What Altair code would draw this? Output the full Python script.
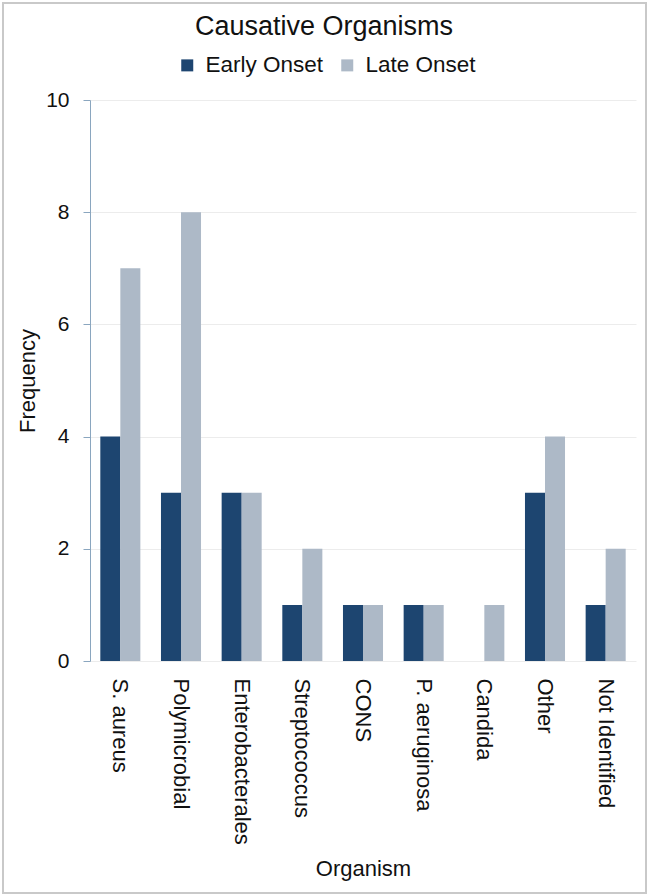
import altair as alt
import pandas as pd

organisms = [
    "S. aureus", "Polymicrobial", "Enterobacterales", "Streptococcus",
    "CONS", "P. aeruginosa", "Candida", "Other", "Not Identified",
]
early_onset = [4, 3, 3, 1, 1, 1, 0, 3, 1]
late_onset = [7, 8, 3, 2, 1, 1, 1, 4, 2]
onset_groups = ["Early Onset", "Late Onset"]
onset_colors = ["#1d4570", "#adb9c7"]
y_ticks = [0, 2, 4, 6, 8, 10]

rows = []
for org, e, l in zip(organisms, early_onset, late_onset):
    rows.append({"Organism": org, "Onset": "Early Onset", "Frequency": e})
    rows.append({"Organism": org, "Onset": "Late Onset", "Frequency": l})
df = pd.DataFrame(rows)

FONT = "Liberation Sans"

bars = alt.Chart(df).mark_bar().encode(
    x=alt.X(
        "Organism:N",
        sort=organisms,
        scale=alt.Scale(paddingInner=0.34, paddingOuter=0.17),
        axis=alt.Axis(
            title="Organism",
            labelAngle=90,
            labelAlign="left",
            labelBaseline="middle",
            labelFontSize=22,
            labelPadding=17,
            labelColor="#111111",
            ticks=False,
            domain=False,
            titleFontSize=22,
            titleFontWeight="normal",
            titleColor="#111111",
            titlePadding=14,
        ),
    ),
    xOffset=alt.XOffset(
        "Onset:N", sort=onset_groups,
        scale=alt.Scale(paddingInner=0, paddingOuter=0),
    ),
    y=alt.Y(
        "Frequency:Q",
        scale=alt.Scale(domain=[0, 10], nice=False),
        axis=alt.Axis(
            title="Frequency",
            values=y_ticks,
            labelFontSize=21,
            labelColor="#111111",
            labelPadding=14,
            tickSize=7,
            tickColor="#8aa6bf",
            domainColor="#8aa6bf",
            gridColor="#ececec",
            titleFontSize=22,
            titleFontWeight="normal",
            titleColor="#111111",
            titlePadding=6,
        ),
    ),
    color=alt.Color(
        "Onset:N",
        scale=alt.Scale(domain=onset_groups, range=onset_colors),
        legend=alt.Legend(
            title=None,
            orient="none",
            direction="horizontal",
            legendX=86,
            legendY=-46,
            symbolType="square",
            symbolSize=144,
            symbolStrokeWidth=0,
            labelFontSize=22.5,
            labelColor="#111111",
            labelOffset=7,
            columnPadding=12,
        ),
    ),
)

# light outer frame around the whole figure
frame = alt.Chart(pd.DataFrame({"f": [0]})).mark_rect(
    filled=False, stroke="#c9c9c9", strokeWidth=2, clip=False
).encode(
    x=alt.value(-87), x2=alt.value(556), y=alt.value(-97), y2=alt.value(793)
)

chart = alt.layer(bars, frame).properties(
    width=546,
    height=561,
    title=alt.TitleParams(
        "Causative Organisms", fontSize=27, fontWeight="normal",
        color="#111111", anchor="middle", dx=-39, dy=51, offset=12,
    ),
    autosize=alt.AutoSizeParams(type="none"),
    padding={"left": 90, "top": 100, "right": 14, "bottom": 235},
).configure(
    font=FONT,
).configure_view(
    stroke=None,
)

chart.save("out.html", embed_options={"renderer": "svg", "actions": False})
